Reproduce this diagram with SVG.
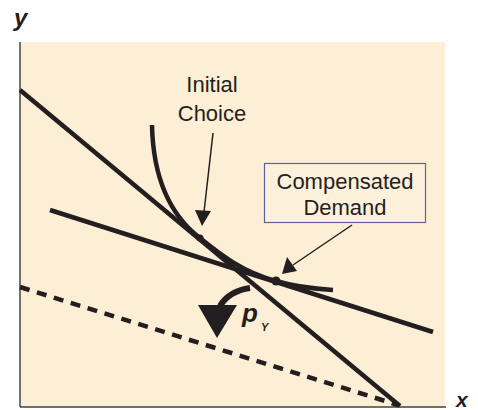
<svg xmlns="http://www.w3.org/2000/svg" width="478" height="410" viewBox="0 0 478 410">
<defs>
<style>
.lbl{font-family:"Liberation Sans",Arial,sans-serif;font-size:22px;fill:#231f20;text-anchor:middle}
.ax{font-family:"Liberation Sans",Arial,sans-serif;font-weight:bold;font-style:italic;fill:#231f20}
.thick{stroke:#231f20;stroke-width:4.5;fill:none;stroke-linecap:butt}
</style>
</defs>
<rect width="478" height="410" fill="#ffffff"/>
<rect x="20" y="42" width="425" height="366" fill="#fdefd5"/>
<g id="axes">
<line x1="20" y1="42" x2="20" y2="407" stroke="#444" stroke-width="1.5"/>
<line x1="20" y1="407" x2="446" y2="407" stroke="#444" stroke-width="1.5"/>
<text class="ax" x="14" y="26" font-size="24">y</text>
<text class="ax" x="456" y="407" font-size="21">x</text>
</g>
<g id="connectors">
<line class="thick" x1="20" y1="90" x2="400" y2="406"/>
<line class="thick" x1="50" y1="210" x2="433" y2="332"/>
<line class="thick" x1="20" y1="287" x2="398" y2="405" stroke-dasharray="10,7.7"/>
<path class="thick" d="M152,125 C153,172 166,212 200,238 C222,256 243,272 276,281 C296,287 316,289 333,290"/>
<line x1="213" y1="133" x2="204" y2="212" stroke="#231f20" stroke-width="1.5"/>
<path d="M195,210 L211,211 L202,226 z" fill="#231f20"/>
<line x1="352" y1="225" x2="293" y2="265" stroke="#231f20" stroke-width="1.5"/>
<path d="M287,257 L297,271 L282,274 z" fill="#231f20"/>
<path d="M250,288 C236,290 226,296 220,306" stroke="#231f20" stroke-width="6" fill="none"/>
<path d="M198,305 L237,305 L217,338 z" fill="#231f20"/>
</g>
<g id="initial-choice">
<circle cx="200" cy="238" r="3.5" fill="#231f20"/>
<text class="lbl" x="212" y="92">Initial</text>
<text class="lbl" x="212" y="121">Choice</text>
</g>
<g id="compensated-demand">
<circle cx="276" cy="281" r="4.5" fill="#231f20"/>
<rect x="264.5" y="163.5" width="161" height="59" fill="#fdf1dc" stroke="#5a64a0" stroke-width="1.2"/>
<text class="lbl" x="345" y="189">Compensated</text>
<text class="lbl" x="345" y="215">Demand</text>
</g>
<g id="py-label">
<text class="ax" x="242" y="322" font-size="26">p</text>
<text class="ax" x="261" y="331" font-size="11">Y</text>
</g>
</svg>
